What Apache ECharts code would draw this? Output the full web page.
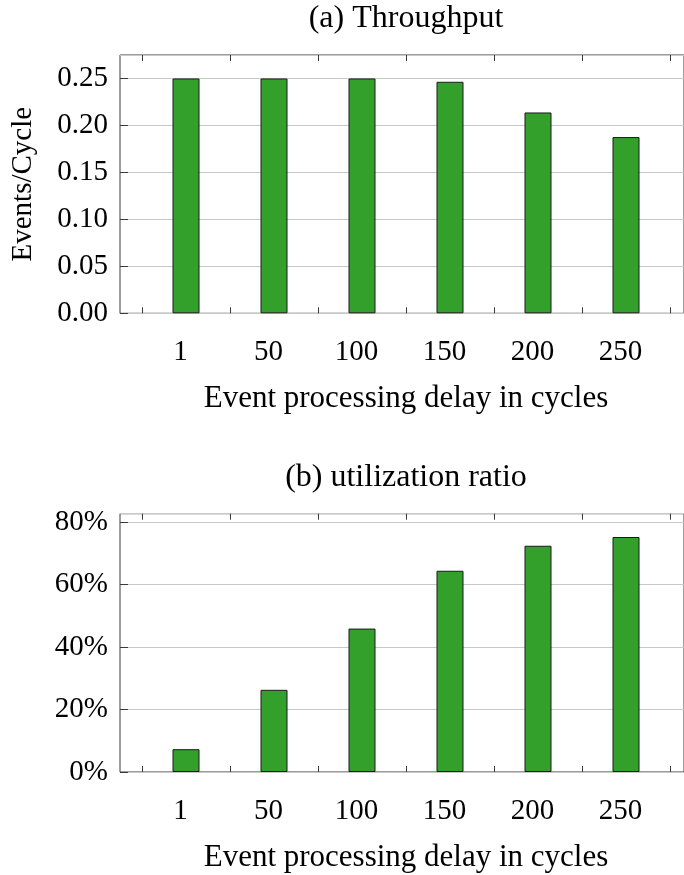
<!DOCTYPE html>
<html><head><meta charset="utf-8">
<script src="https://cdn.jsdelivr.net/npm/echarts@6/dist/echarts.min.js"></script>
<style>html,body{margin:0;padding:0;background:#fff}#c{width:684px;height:875px}</style>
</head><body><div id="c"></div>
<script>
// ---- data ----
const categories = ['1', '50', '100', '150', '200', '250'];
const throughput = [0.25, 0.25, 0.25, 0.2465, 0.2138, 0.1876];
const utilization = [7.3, 26.3, 45.9, 64.4, 72.4, 75.2];
const titleA = '(a) Throughput';
const titleB = '(b) utilization ratio';
const xName = 'Event processing delay in cycles';
const yNameA = 'Events/Cycle';

// ---- layout ----
const FONT = 'Liberation Serif';
const FS = 29;
const L = 120, W = 572, IL = 142, IW = 528, H = 258.3;
const TOP_A = 55, TOP_B = 513.7;
const GREEN = '#33a02c';
const FRAME = '#3a3a3a';
const GRID = '#c8c8c8';

const txt = {fontFamily: FONT, fontSize: FS, color: '#000'};
const nameTxt = {fontFamily: FONT, fontSize: 31, color: '#000'};
const titleTxt = {fontFamily: FONT, fontSize: 32, color: '#000'};

function outerY(gridIndex, max, interval, fmt, name) {
  return {
    gridIndex, type: 'value', min: 0, max, interval,
    axisLine: {show: false},
    axisTick: {show: true, inside: true, length: 8, lineStyle: {color: FRAME}},
    splitLine: {show: true, lineStyle: {color: GRID, width: 1}},
    axisLabel: Object.assign({margin: 12, formatter: fmt, showMaxLabel: false}, txt),
    name: name || '', nameLocation: 'middle', nameGap: 82, nameRotate: 90,
    nameTextStyle: txt
  };
}
function innerY(gridIndex, max) {
  return {gridIndex, type: 'value', min: 0, max, show: false};
}
function bottomX(gridIndex) {
  return {
    gridIndex, type: 'category', data: categories, position: 'bottom',
    axisLine: {show: false},
    axisTick: {show: true, inside: true, length: 6, lineStyle: {color: FRAME}},
    axisLabel: Object.assign({margin: 25, padding: [0, 11, 0, 0]}, txt),
    name: xName, nameLocation: 'middle', nameGap: 70, nameTextStyle: nameTxt
  };
}
function topX(gridIndex, title) {
  return {
    gridIndex, type: 'category', data: categories, position: 'top',
    axisLine: {show: false},
    axisTick: {show: true, inside: true, length: 6, lineStyle: {color: FRAME}},
    axisLabel: {show: false},
    name: title, nameLocation: 'middle', nameGap: 20, nameTextStyle: titleTxt
  };
}

const option = {
  animation: false,
  backgroundColor: '#fff',
  grid: [
    {left: L, top: TOP_A, width: W, height: H, show: true, borderColor: FRAME, borderWidth: 1, backgroundColor: 'transparent'},
    {left: IL, top: TOP_A, width: IW, height: H},
    {left: L, top: TOP_B, width: W, height: H, show: true, borderColor: FRAME, borderWidth: 1, backgroundColor: 'transparent'},
    {left: IL, top: TOP_B, width: IW, height: H}
  ],
  xAxis: [
    {gridIndex: 0, type: 'value', min: 0, max: 1, show: false},
    bottomX(1),
    topX(1, titleA),
    {gridIndex: 2, type: 'value', min: 0, max: 1, show: false},
    bottomX(3),
    topX(3, titleB)
  ],
  yAxis: [
    outerY(0, 0.275, 0.05, v => v.toFixed(2), yNameA),
    innerY(1, 0.275),
    outerY(2, 82.66, 20, v => Math.round(v) + '%', ''),
    innerY(3, 82.66)
  ],
  series: [
    {type: 'bar', xAxisIndex: 1, yAxisIndex: 1, data: throughput, barWidth: 27,
     itemStyle: {color: GREEN, borderColor: '#1a1a1a', borderWidth: 1}},
    {type: 'bar', xAxisIndex: 4, yAxisIndex: 3, data: utilization, barWidth: 27,
     itemStyle: {color: GREEN, borderColor: '#1a1a1a', borderWidth: 1}}
  ]
};
const chart = echarts.init(document.getElementById('c'), null, {renderer: 'canvas'});
chart.setOption(option);
</script>
</body></html>
